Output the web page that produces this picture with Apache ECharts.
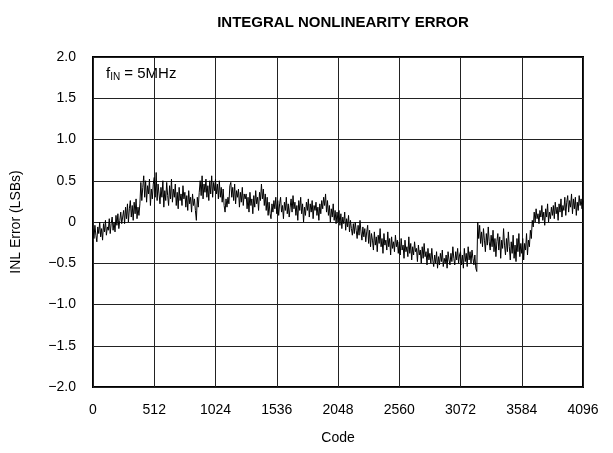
<!DOCTYPE html>
<html>
<head>
<meta charset="utf-8">
<script src="https://cdn.jsdelivr.net/npm/echarts@6/dist/echarts.min.js"></script>
<style>
  html, body { margin: 0; padding: 0; background: #fff; }
  #chart { width: 613px; height: 453px; }
</style>
</head>
<body>
<div id="chart"></div>
<script>
// code step between samples
var codeStep = 8;
// INL error (LSBs), one value every 8 codes (0..4096)
var inlValues = [
  -0.08,-0.2,-0.04,-0.16,-0.24,-0.06,-0.14,0.0,-0.18,-0.08,-0.22,-0.02,-0.12,0.02,-0.16,-0.06,
  -0.1,0.04,-0.14,-0.02,0.06,-0.1,0.0,-0.12,0.08,-0.04,0.1,-0.08,0.02,0.12,-0.02,0.06,
  0.14,-0.02,0.18,0.04,0.22,0.0,0.16,0.26,0.06,0.2,0.02,0.24,0.1,0.28,0.04,0.18,
  0.08,0.22,0.48,0.26,0.42,0.56,0.3,0.5,0.24,0.44,0.34,0.52,0.2,0.4,0.28,0.46,
  0.54,0.3,0.6,0.26,0.46,0.34,0.22,0.42,0.3,0.5,0.18,0.38,0.26,0.48,0.32,0.2,
  0.44,0.28,0.52,0.24,0.4,0.3,0.46,0.2,0.36,0.16,0.42,0.26,0.34,0.2,0.44,0.28,
  0.36,0.18,0.32,0.14,0.38,0.22,0.3,0.12,0.34,0.2,0.28,0.14,0.02,0.3,0.18,0.36,
  0.5,0.32,0.56,0.28,0.46,0.36,0.52,0.3,0.44,0.26,0.5,0.34,0.56,0.3,0.48,0.38,
  0.52,0.34,0.46,0.28,0.5,0.3,0.42,0.24,0.4,0.2,0.12,0.28,0.18,0.3,0.22,0.44,
  0.48,0.3,0.42,0.26,0.46,0.22,0.38,0.3,0.4,0.18,0.36,0.24,0.42,0.2,0.34,0.28,
  0.34,0.16,0.3,0.12,0.36,0.2,0.28,0.1,0.32,0.18,0.38,0.22,0.3,0.14,0.36,0.26,
  0.46,0.28,0.4,0.2,0.34,0.14,0.3,0.08,0.24,0.1,0.04,0.22,0.12,0.26,0.16,0.3,
  0.1,0.26,0.08,0.22,0.3,0.12,0.2,0.04,0.24,0.14,0.3,0.1,0.22,0.06,0.18,0.28,
  0.12,0.32,0.16,0.24,0.08,0.2,0.02,0.26,0.14,0.3,0.1,0.22,0.0,0.18,0.08,0.24,
  0.14,0.28,0.06,0.22,0.12,0.26,0.04,0.2,0.14,0.24,0.08,0.18,0.02,0.22,0.1,0.26,
  0.16,0.3,0.2,0.34,0.12,0.26,0.08,0.2,0.0,0.16,0.06,0.22,0.02,0.14,-0.02,0.12,
  0.0,0.14,-0.04,0.1,-0.08,0.06,-0.02,0.12,-0.1,0.04,-0.06,0.08,-0.12,0.02,-0.08,-0.16,
  -0.02,-0.14,0.0,-0.1,-0.2,-0.04,-0.16,0.02,-0.12,-0.22,-0.06,-0.18,-0.08,-0.24,-0.12,-0.04,
  -0.26,-0.1,-0.3,-0.14,-0.22,-0.34,-0.12,-0.28,-0.18,-0.36,-0.16,-0.26,-0.08,-0.3,-0.2,-0.38,
  -0.14,-0.28,-0.22,-0.34,-0.12,-0.3,-0.2,-0.4,-0.18,-0.32,-0.24,-0.36,-0.16,-0.3,-0.22,-0.38,
  -0.24,-0.4,-0.2,-0.34,-0.28,-0.44,-0.22,-0.36,-0.3,-0.42,-0.18,-0.38,-0.26,-0.46,-0.3,-0.4,
  -0.24,-0.36,-0.32,-0.48,-0.28,-0.4,-0.34,-0.5,-0.3,-0.44,-0.26,-0.42,-0.36,-0.52,-0.32,-0.46,
  -0.38,-0.5,-0.32,-0.46,-0.54,-0.4,-0.5,-0.36,-0.56,-0.42,-0.52,-0.38,-0.48,-0.34,-0.54,-0.44,
  -0.5,-0.4,-0.56,-0.36,-0.46,-0.52,-0.38,-0.48,-0.3,-0.44,-0.52,-0.36,-0.46,-0.32,-0.5,-0.4,
  -0.36,-0.52,-0.4,-0.56,-0.32,-0.48,-0.38,-0.54,-0.3,-0.46,-0.36,-0.5,-0.34,-0.44,-0.52,-0.4,
  -0.56,-0.6,0.0,-0.2,-0.04,-0.26,-0.12,-0.3,-0.08,-0.22,-0.36,-0.14,-0.28,-0.06,-0.24,-0.34,
  -0.16,-0.3,-0.1,-0.36,-0.2,-0.42,-0.24,-0.14,-0.34,-0.18,-0.44,-0.22,-0.32,-0.08,-0.28,-0.4,
  -0.2,-0.36,-0.12,-0.3,-0.46,-0.24,-0.38,-0.16,-0.44,-0.28,-0.48,-0.2,-0.36,-0.14,-0.42,-0.26,
  -0.38,-0.2,-0.46,-0.26,-0.34,-0.14,-0.4,-0.22,-0.3,-0.1,-0.2,0.02,-0.06,0.12,0.0,0.16,
  0.04,0.1,-0.02,0.14,0.06,0.2,0.02,0.12,-0.04,0.16,0.06,0.22,0.0,0.12,0.04,0.18,
  0.08,0.2,0.04,0.24,0.1,0.18,0.02,0.22,0.12,0.28,0.06,0.2,0.14,0.3,0.08,0.24,
  0.32,0.12,0.26,0.18,0.34,0.1,0.28,0.16,0.3,0.08,0.24,0.14,0.32,0.2,0.28,0.16,
  0.26
];
var xTicks = [0, 512, 1024, 1536, 2048, 2560, 3072, 3584, 4096];
var yTicks = [-2.0, -1.5, -1.0, -0.5, 0, 0.5, 1.0, 1.5, 2.0];

var seriesData = [];
for (var i = 0; i < inlValues.length; i++) {
  seriesData.push([i * codeStep, inlValues[i]]);
}

var font = 'Liberation Sans, Arial, sans-serif';
var myChart = echarts.init(document.getElementById('chart'));

myChart.setOption({
  animation: false,
  title: {
    text: 'INTEGRAL NONLINEARITY ERROR',
    left: 338,
    textAlign: 'center',
    top: 10,
    textStyle: { fontFamily: font, fontSize: 15, fontWeight: 'bold', color: '#000' }
  },
  grid: {
    left: 93, right: 30, top: 57, bottom: 66,
    show: true, borderColor: '#000', borderWidth: 2, backgroundColor: '#fff'
  },
  xAxis: {
    type: 'value',
    min: xTicks[0], max: xTicks[xTicks.length - 1], interval: 512,
    name: 'Code', nameLocation: 'middle', nameGap: 44,
    nameTextStyle: { fontFamily: font, fontSize: 14, color: '#000' },
    axisLine: { show: false },
    axisTick: { show: false },
    axisLabel: {
      fontFamily: font, fontSize: 14, color: '#000', margin: 16,
      formatter: function (v) { return String(v); }
    },
    splitLine: { show: true, lineStyle: { color: '#222', width: 1 } }
  },
  yAxis: {
    type: 'value',
    min: yTicks[0], max: yTicks[yTicks.length - 1], interval: 0.5,
    name: 'INL Error (LSBs)', nameLocation: 'middle', nameGap: 70, nameRotate: 90,
    nameTextStyle: { fontFamily: font, fontSize: 14, color: '#000' },
    axisLine: { show: false },
    axisTick: { show: false },
    axisLabel: {
      fontFamily: font, fontSize: 14, color: '#000', margin: 17,
      formatter: function (v) {
        if (v === 0) return '0';
        return (v < 0 ? '\u2212' : '') + Math.abs(v).toFixed(1);
      }
    },
    splitLine: { show: true, lineStyle: { color: '#222', width: 1 } }
  },
  graphic: [{
    type: 'text',
    left: 106, top: 66,
    style: {
      text: '{f|f}{s|IN}{f| = 5MHz}',
      rich: {
        f: { fontFamily: font, fontSize: 15, fill: '#000' },
        s: { fontFamily: font, fontSize: 10, fill: '#000', verticalAlign: 'bottom', padding: [8, 0, 0, 0] }
      }
    }
  }],
  series: [{
    type: 'line',
    data: seriesData,
    showSymbol: false,
    lineStyle: { color: '#000', width: 1 },
    z: 3
  }]
});
</script>
</body>
</html>
